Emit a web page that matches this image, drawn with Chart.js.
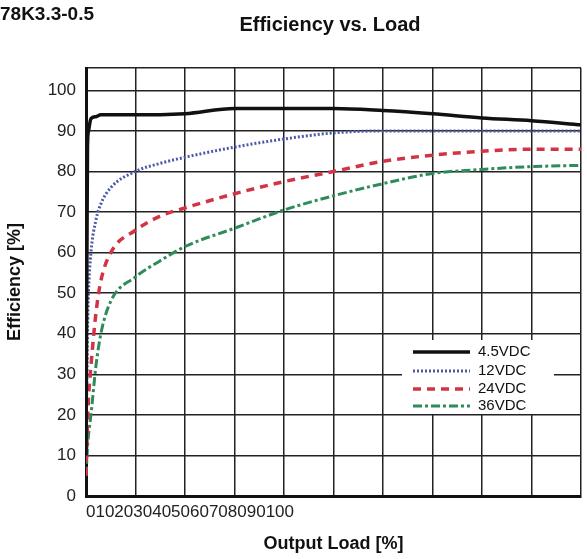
<!DOCTYPE html>
<html><head><meta charset="utf-8">
<script src="https://cdn.jsdelivr.net/npm/chart.js@4.4.0/dist/chart.umd.min.js"></script>
<style>html,body{margin:0;padding:0;background:#fff}#w{width:587px;height:559px}</style>
</head><body><div id="w"><canvas id="c"></canvas></div>
<script>
const loadX = [0,0.3,0.5,1,2,3,5,10,15,20,30,40,50,60,70,80,90,100];
const v45 = [10,86,90,93,93.5,94,94,94,94,94.2,95.5,95.5,95.5,95,94.2,93.2,92.5,91.5];
const v12 = [10,40,50,60,68,72,76,80,82,83.5,86,88,89.5,90,90,90,90,90];
const v24 = [5,18,24,32,45,53,60,65.5,69,71,74.5,77.5,80,82.5,84,85,85.5,85.5];
const v36 = [5,12,15,20,32,40,48,54,58,61.5,66,70.5,74,77,79.5,80.5,81.2,81.5];
const seriesNames = ['4.5VDC','12VDC','24VDC','36VDC'];
const yTicks = [0,10,20,30,40,50,60,70,80,90,100];
const xTickText = '0102030405060708090100';
const F = "'Liberation Sans Narrow','Liberation Sans',sans-serif";
const styles = [
 {c:'#111',w:3.5,d:[]},{c:'#4a5aa8',w:3,d:[2,2]},{c:'#d23445',w:3.5,d:[8,6]},{c:'#2e8b5a',w:3,d:[9,3,3,3]}];
const vals=[v45,v12,v24,v36];
const datasets = vals.map((v,i)=>({label:seriesNames[i],data:loadX.map((x,j)=>({x,y:v[j]})),
 borderColor:styles[i].c,borderWidth:styles[i].w,borderDash:styles[i].d,pointRadius:0,fill:false,cubicInterpolationMode:'monotone'}));
const deco={id:'deco',afterDraw(ch){const g=ch.ctx;g.save();
 g.fillStyle='#111';g.textBaseline='middle';
 g.font="bold 19px "+F;g.textAlign='left';g.fillText('78K3.3-0.5',0,15);
 g.font="bold 20px "+F;g.textAlign='center';g.fillText('Efficiency vs. Load',330,25);
 g.fillStyle='#fff';g.fillRect(402,340,152,74);
 const ys=[352,371,389,406];
 ys.forEach((y,i)=>{g.strokeStyle=styles[i].c;g.lineWidth=styles[i].w;g.setLineDash(styles[i].d);
  g.beginPath();g.moveTo(413,y);g.lineTo(470,y);g.stroke();
  g.setLineDash([]);g.fillStyle='#111';g.font="15px "+F;g.textAlign='left';g.fillText(seriesNames[i],478,y);});
 g.restore();}};
new Chart(document.getElementById('c'),{type:'line',data:{datasets},plugins:[deco],
 options:{responsive:true,maintainAspectRatio:false,animation:false,
  layout:{padding:{top:68,right:2,left:0,bottom:0}},
  plugins:{legend:{display:false},tooltip:{enabled:false}},
  scales:{
   x:{type:'linear',min:0,max:100,afterFit:s=>{s.height=63},
    grid:{color:'#222',lineWidth:1.5,drawTicks:false},border:{color:'#111',width:3},
    ticks:{stepSize:10,autoSkip:false,maxRotation:0,align:'start',padding:6,color:'#222',font:{family:F,size:17},
      callback:v=>v===0?xTickText:''},
    title:{display:true,text:'Output Load [%]',color:'#111',font:{family:F,size:18,weight:'bold'},padding:{top:14}}},
   y:{min:0,max:105.5,afterFit:s=>{s.width=86},
    grid:{color:'#222',lineWidth:1.5,drawTicks:true,tickLength:0},border:{color:'#111',width:3},
    ticks:{stepSize:10,padding:10,color:'#222',font:{family:F,size:17},callback:v=>yTicks.includes(v)?String(v):''},
    title:{display:true,text:'Efficiency [%]',color:'#111',font:{family:F,size:18,weight:'bold'},padding:{bottom:2}}}
  }}});
</script></body></html>
